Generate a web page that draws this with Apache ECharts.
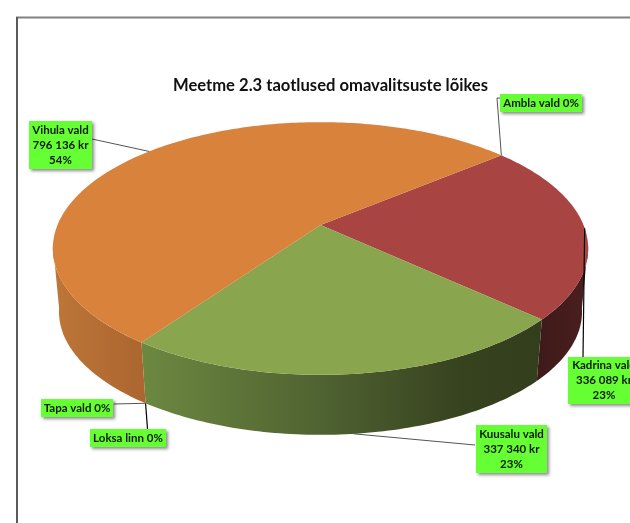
<!DOCTYPE html>
<html>
<head>
<meta charset="utf-8">
<style>html,body{margin:0;padding:0;background:#fff;overflow:hidden}#c{width:630px;height:523px}</style>
<script src="https://cdn.jsdelivr.net/npm/echarts@6/dist/echarts.min.js"></script>
</head>
<body>
<div id="c"></div>
<script>
const titleText = 'Meetme 2.3 taotlused omavalitsuste lõikes';
const names = ['Ambla vald', 'Kadrina vald', 'Kuusalu vald', 'Loksa linn', 'Tapa vald', 'Vihula vald'];
const values = [0, 336089, 337340, 0, 0, 796136];
const topColors = ['#a84543', '#a84543', '#89a54e', '#89a54e', '#d8823c', '#d8823c'];

// Projection of the tilted disc; the wall is visible between visFrom and visTo degrees
const cam = {cx: 320.5, cy: 225, R: 263, B: 122, k: 0.186, cyLow: 289, BLow: 118.7, sLow: 0.977, start: 50.3, visFrom: 99, visTo: 261};
// Label boxes: x, y, width, height, leader elbow/end points, ring used for the anchor
const layout = {
  'Ambla vald':   {box: [500, 94, 82, 18],  path: [[497, 98], [501, 98]], low: false, dark: false},
  'Kadrina vald': {box: [568, 357, 72, 47], path: [[583, 357]], low: false, dark: true},
  'Kuusalu vald': {box: [476, 425, 71, 48], path: [[475, 445]], low: true, dark: false},
  'Loksa linn':   {box: [90, 429, 76, 18],  path: [[147.5, 429]], low: true, dark: true},
  'Tapa vald':    {box: [41, 399, 72, 18],  path: [[114, 404]], low: true, dark: false},
  'Vihula vald':  {box: [29, 121, 63, 48],  path: [[92, 139]], low: false, dark: false}
};

const total = values.reduce((a, b) => a + b, 0);
function ringPoint(deg, low) {
  const a = deg * Math.PI / 180, u = Math.sin(a), v = -Math.cos(a);
  const f = 1 / (1 - cam.k * v);
  if (low) return [cam.cx + cam.R * cam.sLow * u * f, cam.cyLow + cam.BLow * v * f];
  return [cam.cx + cam.R * u * f, cam.cy + cam.B * v * f];
}
function arcOf(i) {
  let before = 0;
  for (let j = 0; j < i; j++) before += values[j];
  const a0 = cam.start + before / total * 360;
  return [a0, a0 + values[i] / total * 360];
}
function arcPoints(a0, a1, low) {
  const n = Math.max(2, Math.ceil((a1 - a0) / 1));
  const pts = [];
  for (let i = 0; i <= n; i++) pts.push(ringPoint(a0 + (a1 - a0) * i / n, low));
  return pts;
}
function sideFill(name) {
  const stopsBy = {
    'Kadrina vald': [[0, '#3f1a1a'], [1, '#4a1e1e']],
    'Kuusalu vald': [[0, '#6c8740'], [0.45, '#4f6231'], [0.8, '#37421f'], [1, '#333e1d']],
    'Vihula vald': [[0, '#bd7637'], [1, '#ab6530']]
  };
  const range = {'Kadrina vald': [537, 588], 'Kuusalu vald': [147, 540], 'Vihula vald': [55, 147]}[name];
  return {type: 'linear', x: range[0], y: 0, x2: range[1], y2: 0, global: true,
    colorStops: stopsBy[name].map(s => ({offset: s[0], color: s[1]}))};
}
function fmt(v) { return String(v).replace(/\B(?=(\d{3})+$)/g, ' ') + ' kr'; }
function labelText(i) {
  const pct = Math.round(values[i] / total * 100) + '%';
  return values[i] === 0 ? names[i] + ' ' + pct : names[i] + '\n' + fmt(values[i]) + '\n' + pct;
}
const seriesData = values.map((v, i) => ({name: names[i], value: [v]}));

const chart = echarts.init(document.getElementById('c'), null, {renderer: 'canvas'});
chart.setOption({
  animation: false,
  backgroundColor: '#ffffff',
  title: {
    text: titleText, left: 325.5, top: 72, textAlign: 'center',
    textStyle: {fontFamily: 'Lato', fontWeight: 'bold', fontSize: 16.6, color: '#111'}
  },
  graphic: [
    {type: 'line', shape: {x1: 16, y1: 17.5, x2: 630, y2: 17.5}, style: {stroke: '#808080', lineWidth: 2}},
    {type: 'line', shape: {x1: 17, y1: 17, x2: 17, y2: 523}, style: {stroke: '#5a5a5a', lineWidth: 2}}
  ],
  series: [
    {
      type: 'custom', coordinateSystem: 'none', z: 1, data: seriesData, silent: true,
      renderItem: function (p) {
        const i = p.dataIndex;
        if (values[i] === 0) return null;
        const [a0, a1] = arcOf(i);
        const from = Math.max(a0, cam.visFrom), to = Math.min(a1, cam.visTo);
        const pts = arcPoints(from, to, false).concat(arcPoints(from, to, true).reverse());
        return {type: 'polygon', shape: {points: pts}, style: {fill: sideFill(names[i])}};
      }
    },
    {
      type: 'custom', coordinateSystem: 'none', z: 2, data: seriesData, silent: true,
      renderItem: function (p) {
        const i = p.dataIndex;
        if (values[i] === 0) return null;
        const [a0, a1] = arcOf(i);
        const pts = [[cam.cx, cam.cy]].concat(arcPoints(a0, a1, false));
        return {type: 'polygon', shape: {points: pts}, style: {fill: topColors[i]}};
      }
    },
    {
      type: 'custom', coordinateSystem: 'none', z: 3, data: seriesData, silent: true,
      renderItem: function (p) {
        const i = p.dataIndex, l = layout[names[i]];
        const [a0, a1] = arcOf(i);
        const anchor = ringPoint((a0 + a1) / 2, l.low);
        const [x, y, w, h] = l.box;
        return {
          type: 'group',
          children: [
            {type: 'polyline', z2: 1, shape: {points: [anchor].concat(l.path)},
              style: {fill: 'none', stroke: l.dark ? '#000000' : '#555555', lineWidth: l.dark ? 1.2 : 1}},
            {type: 'rect', z2: 2, shape: {x: x, y: y, width: w, height: h},
              style: {fill: '#66ff33', shadowColor: 'rgba(0,0,0,0.45)', shadowBlur: 3, shadowOffsetX: 2, shadowOffsetY: 2}},
            {type: 'text', z2: 3, style: {
              x: x + w / 2, y: y + h / 2, text: labelText(i), align: 'center', verticalAlign: 'middle',
              fontFamily: 'Lato', fontWeight: 'bold', fontSize: 11.5, lineHeight: 15, fill: '#0a1a05'}}
          ]
        };
      }
    }
  ]
});
</script>
</body>
</html>
